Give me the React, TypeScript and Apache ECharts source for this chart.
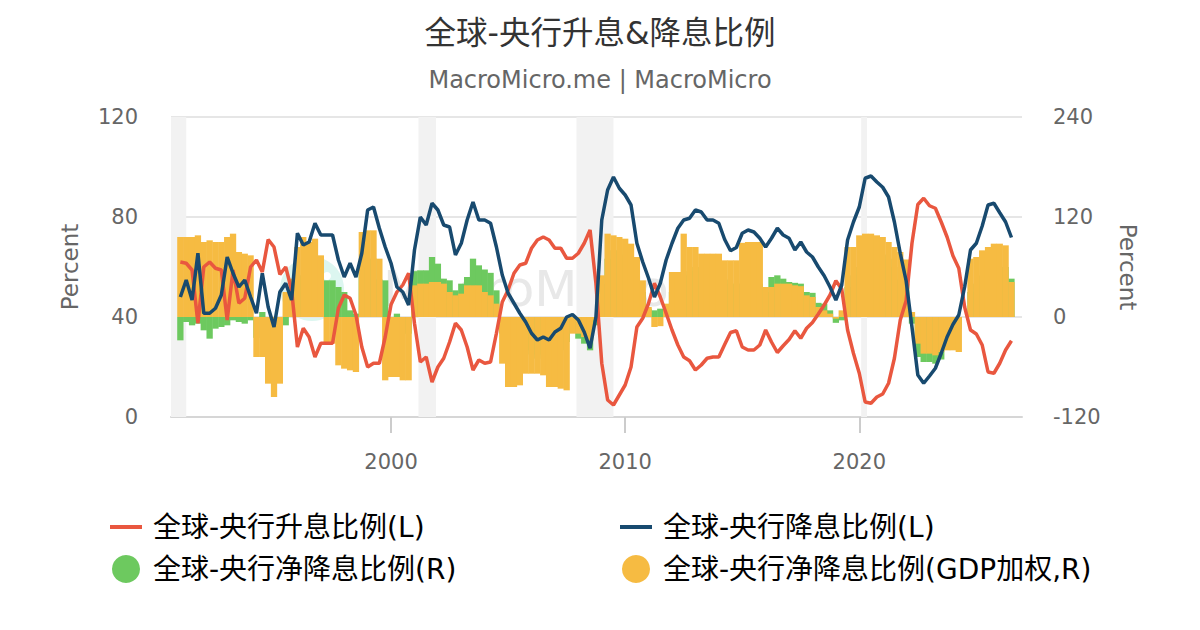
import React, { useEffect, useRef } from "react";
import * as echarts from "echarts";

// Quarterly observations, first point 1991-01, step 3 months
const START_YEAR = 1991;

// 全球-央行升息比例 (L, %)
const hikeRatio = [
  62, 61.5, 58.8, 37.5, // 1991
  60, 62, 59.5, 58.8, // 1992
  38.8, 58.8, 45.5, 47.5, // 1993
  60, 62.8, 58, 71, // 1994
  68, 57, 60, 50.8, // 1995
  28, 35.5, 32, 24, // 1996
  29.5, 29.5, 29.5, 43.5, // 1997
  48.8, 47.5, 40.8, 28, // 1998
  20, 21.5, 21.5, 32, // 1999
  45, 50, 52.8, 57.5, // 2000
  37.5, 22, 24, 14, // 2001
  20, 23.5, 30, 37.5, // 2002
  34.8, 28, 18.8, 22.8, // 2003
  21.5, 22, 33.5, 46, // 2004
  50.8, 57.5, 60.8, 61.5, // 2005
  67.5, 70.8, 72, 70.8, // 2006
  67.5, 67.5, 63.5, 63.5, // 2007
  65.5, 69.5, 74.8, 53.5, // 2008
  21.5, 6.8, 4.8, 8.8, // 2009
  12.8, 20, 36, 39.5, // 2010
  45.5, 53.5, 48, 41.5, // 2011
  34.8, 28.8, 24, 22.5, // 2012
  18.8, 20.8, 23.5, 24, // 2013
  24, 29, 33.8, 34.5, // 2014
  28, 26.8, 26.8, 28.8, // 2015
  34.8, 30, 25.8, 28.5, // 2016
  31, 34.5, 31.5, 35.5, // 2017
  37.8, 41.2, 44.8, 48.8, // 2018
  54.5, 51.2, 34.8, 25.5, // 2019
  17.5, 6, 5.5, 8, // 2020
  9.2, 13.5, 23.5, 38.8, // 2021
  46.5, 69.5, 85, 87.5, // 2022
  84.5, 83.5, 78, 72, // 2023
  64.5, 59.5, 44, 34.8, // 2024
  33.2, 28.8, 18, 17.5, // 2025
  21.5, 26.8, 30.5, // 2026
];

// 全球-央行降息比例 (L, %)
const cutRatio = [
  48, 54.8, 46.8, 65.5, // 1991
  41.5, 41.5, 43.5, 48.8, // 1992
  64, 57.5, 52, 54.8, // 1993
  48, 41.5, 57.5, 44, // 1994
  36, 50, 53.5, 46.8, // 1995
  73.5, 68.8, 70, 77.5, // 1996
  72.8, 72.8, 72.8, 62.8, // 1997
  56, 61.5, 56, 65.5, // 1998
  82.8, 84, 75.5, 68, // 1999
  61.5, 52, 50, 44.8, // 2000
  66.8, 80, 76.8, 85.5, // 2001
  82.8, 76.8, 76, 64.8, // 2002
  69.5, 78.8, 86, 78.8, // 2003
  78.8, 77.5, 68, 56.8, // 2004
  49.5, 45.5, 41.5, 38, // 2005
  33.5, 30.8, 32, 30.8, // 2006
  34, 35.5, 40, 41, // 2007
  38.8, 34, 27.5, 40, // 2008
  78.8, 90.8, 96, 91.5, // 2009
  88.8, 84.8, 69.5, 62, // 2010
  55.5, 48, 53.5, 62.8, // 2011
  69.5, 75.5, 78.8, 79.5, // 2012
  82.8, 82, 78.8, 78.8, // 2013
  77.5, 71, 66.5, 67.8, // 2014
  73.5, 74.8, 74, 71.5, // 2015
  68, 71.5, 75.5, 72.8, // 2016
  71.5, 66.8, 70, 66, // 2017
  64, 60, 56.5, 52, // 2018
  46.8, 52.8, 70.8, 78, // 2019
  84, 95.5, 96.4, 94, // 2020
  91.9, 88, 78, 65.5, // 2021
  54.5, 36, 16.8, 13.5, // 2022
  16.4, 19.5, 25.5, 32, // 2023
  37, 40.8, 52, 66.8, // 2024
  69.5, 76.4, 84.8, 85.5, // 2025
  81.7, 78, 71.8, // 2026
];

// 全球-央行净降息比例 (R)
const netCutRatio = [
  -28, -6, -10, -8, // 1991
  -16, -26, -14, -12, // 1992
  -10, -4, -6, -8, // 1993
  -4, -25, 6, -40, // 1994
  -50, -40, -10, 20, // 1995
  40, 50, 45, 50, // 1996
  45, 44, 44, 36, // 1997
  30, 8, 4, 60, // 1998
  70, 70, 45, 44, // 1999
  -10, 4, -20, -20, // 2000
  55, 56, 56, 72, // 2001
  64, 46, 44, 32, // 2002
  40, 48, 70, 62, // 2003
  57, 53, 32, -20, // 2004
  -30, -35, -40, -40, // 2005
  -45, -50, -45, -50, // 2006
  -45, -40, -30, -18, // 2007
  -26, -32, -40, -10, // 2008
  40, 70, 80, 80, // 2009
  75, 70, 50, 30, // 2010
  10, 8, 10, 10, // 2011
  30, 40, 50, 55, // 2012
  60, 60, 55, 55, // 2013
  50, 45, 40, 40, // 2014
  40, 42, 42, 40, // 2015
  30, 48, 50, 46, // 2016
  42, 41, 40, 30, // 2017
  29, 17, 16, 8, // 2018
  -7, -4, 36, 50, // 2019
  60, 75, 80, 80, // 2020
  75, 70, 60, 45, // 2021
  40, -8, -48, -54, // 2022
  -54, -56, -51, -35, // 2023
  -25, -15, 0, 30, // 2024
  40, 50, 60, 60, // 2025
  60, 60, 46, // 2026
];

// 全球-央行净降息比例(GDP加权) (R)
const netCutGdp = [
  96, 96, 96, 98, // 1991
  90, 92, 90, 90, // 1992
  96, 100, 78, 76, // 1993
  74, -48, -48, -80, // 1994
  -96, -80, 30, 46, // 1995
  84, 96, 90, 94, // 1996
  74, -32, -32, -58, // 1997
  -62, -64, -66, 102, // 1998
  104, 104, 70, -76, // 1999
  -72, -72, -76, -76, // 2000
  38, 40, 40, 42, // 2001
  42, 40, 30, 26, // 2002
  28, 38, 38, 38, // 2003
  30, 26, 16, -56, // 2004
  -84, -84, -82, -68, // 2005
  -68, -68, -70, -84, // 2006
  -84, -86, -88, -20, // 2007
  -20, -24, -28, -4, // 2008
  50, 100, 98, 96, // 2009
  94, 88, 72, 44, // 2010
  12, -12, -11, 16, // 2011
  54, 54, 100, 84, // 2012
  84, 76, 76, 76, // 2013
  76, 68, 68, 68, // 2014
  89, 90, 90, 90, // 2015
  36, 36, 40, 40, // 2016
  40, 38, 37, 26, // 2017
  24, 12, 8, 4, // 2018
  -2, 8, 84, 84, // 2019
  98, 100, 100, 98, // 2020
  96, 90, 84, 78, // 2021
  69, 6, -32, -44, // 2022
  -44, -46, -42, -40, // 2023
  -40, -42, 0, 70, // 2024
  72, 80, 84, 88, // 2025
  88, 86, 42, // 2026
];

// Recession shading (decimal years)
const recessions: [number, number][] = [
  [1990.6, 1991.25],
  [2001.17, 2001.92],
  [2007.92, 2009.5],
  [2020.08, 2020.33],
];

const xTickYears = [2000, 2010, 2020];
const X_MIN = 1990.6;
const X_MAX = 2026.95;

const leftTicks = { min: 0, max: 120, interval: 40 };
const rightTicks = { min: -120, max: 240, interval: 120 };

const NAMES = [
  "全球-央行升息比例(L)",
  "全球-央行降息比例(L)",
  "全球-央行净降息比例(R)",
  "全球-央行净降息比例(GDP加权,R)",
];
const COLORS = ["#E9573F", "#184A6F", "#6DC95F", "#F6BB42"];

const FONT = "'DejaVu Sans', 'Noto Sans CJK SC', sans-serif";

// decimal-year position of each quarterly observation
function quarterPositions(n: number): number[] {
  const out: number[] = [];
  for (let i = 0; i < n; i++) {
    out.push(START_YEAR + i / 4);
  }
  return out;
}

export default function App() {
  const ref = useRef<HTMLDivElement>(null);

  useEffect(() => {
    if (!ref.current) return;
    const chart = echarts.init(ref.current, null, { renderer: "svg" });
    const xs = quarterPositions(hikeRatio.length);
    const pair = (arr: number[]) => arr.map((v, i) => [xs[i], v]);

    const legendBase = (name: string, left: number, top: number, isLine: boolean) => ({
      data: [name],
      left,
      top,
      padding: 0,
      orient: "horizontal",
      icon: isLine ? "rect" : "circle",
      itemWidth: isLine ? 32 : 28,
      itemHeight: isLine ? 4 : 28,
      selectedMode: false,
      textStyle: {
        fontFamily: FONT,
        fontSize: 28,
        color: "#000",
        padding: [0, 0, 0, isLine ? 6 : 8],
      },
    });

    const option: any = {
      animation: false,
      textStyle: { fontFamily: FONT },
      title: [
        {
          text: "全球-央行升息&降息比例",
          left: "center",
          top: 12,
          textStyle: { fontFamily: FONT, fontSize: 31.5, fontWeight: "normal", color: "#333" },
        },
        {
          text: "MacroMicro.me | MacroMicro",
          left: "center",
          top: 63,
          textStyle: { fontFamily: FONT, fontSize: 24, fontWeight: "normal", color: "#666" },
        },
      ],
      legend: [
        legendBase(NAMES[0], 110, 513, true),
        legendBase(NAMES[1], 620, 513, true),
        legendBase(NAMES[2], 112, 555, false),
        legendBase(NAMES[3], 622, 555, false),
      ],
      graphic: [
        {
          type: "circle",
          z: 0,
          silent: true,
          shape: { cx: 312, cy: 289, r: 32 },
          style: { fill: "#dcf6f0" },
        },
        {
          type: "circle",
          z: 0,
          silent: true,
          shape: { cx: 327, cy: 276, r: 4 },
          style: { fill: "#ffffff" },
        },
        {
          type: "text",
          z: 0,
          silent: true,
          x: 383,
          y: 289,
          style: {
            text: "MacroMicro",
            fontFamily: FONT,
            fontSize: 50,
            fill: "#e8e8e8",
            verticalAlign: "middle",
          },
        },
      ],
      grid: { left: 171, right: 178, top: 117, bottom: 213, containLabel: false },
      xAxis: {
        type: "value",
        min: X_MIN,
        max: X_MAX,
        axisLine: { show: true, onZero: false, lineStyle: { color: "#d6d6d6", width: 2 } },
        axisTick: {
          show: true,
          customValues: xTickYears,
          length: 16,
          lineStyle: { color: "#cccccc", width: 2 },
        },
        axisLabel: {
          customValues: xTickYears,
          color: "#666",
          fontSize: 21,
          fontFamily: FONT,
          margin: 34,
          formatter: (v: number) => String(Math.round(v)),
        },
        splitLine: { show: false },
      },
      yAxis: [
        {
          type: "value",
          position: "left",
          ...leftTicks,
          name: "Percent",
          nameLocation: "middle",
          nameRotate: 90,
          nameGap: 90,
          nameTextStyle: { color: "#666", fontSize: 23, fontFamily: FONT },
          axisLine: { show: false },
          axisTick: { show: false },
          axisLabel: { color: "#666", fontSize: 21, fontFamily: FONT, margin: 33 },
          splitLine: { show: true, lineStyle: { color: "#e6e6e6", width: 2 } },
        },
        {
          type: "value",
          position: "right",
          ...rightTicks,
          name: "Percent",
          nameLocation: "middle",
          nameRotate: -90,
          nameGap: 94,
          nameTextStyle: { color: "#666", fontSize: 23, fontFamily: FONT },
          axisLine: { show: false },
          axisTick: { show: false },
          axisLabel: { color: "#666", fontSize: 21, fontFamily: FONT, margin: 31 },
          splitLine: { show: false },
        },
      ],
      series: [
        {
          name: NAMES[2],
          type: "bar",
          yAxisIndex: 1,
          data: pair(netCutRatio),
          barWidth: 6.3,
          barGap: "-100%",
          itemStyle: { color: COLORS[2] },
          z: 2,
          markArea: {
            silent: true,
            z: 1,
            itemStyle: { color: "#f2f2f2" },
            data: recessions.map(([a, b]) => [{ xAxis: a }, { xAxis: b }]),
          },
        },
        {
          name: NAMES[3],
          type: "bar",
          yAxisIndex: 1,
          data: pair(netCutGdp),
          barWidth: 6.3,
          barGap: "-100%",
          itemStyle: { color: COLORS[3] },
          z: 2,
        },
        {
          name: NAMES[0],
          type: "line",
          yAxisIndex: 0,
          data: pair(hikeRatio),
          showSymbol: false,
          symbol: "none",
          lineStyle: { color: COLORS[0], width: 3.5 },
          itemStyle: { color: COLORS[0] },
          z: 3,
        },
        {
          name: NAMES[1],
          type: "line",
          yAxisIndex: 0,
          data: pair(cutRatio),
          showSymbol: false,
          symbol: "none",
          lineStyle: { color: COLORS[1], width: 3.5 },
          itemStyle: { color: COLORS[1] },
          z: 4,
        },
      ],
    };

    chart.setOption(option);
    return () => chart.dispose();
  }, []);

  return (
    <div
      ref={ref}
      style={{ position: "fixed", left: 0, top: 0, width: 1200, height: 630, background: "#fff" }}
    />
  );
}
